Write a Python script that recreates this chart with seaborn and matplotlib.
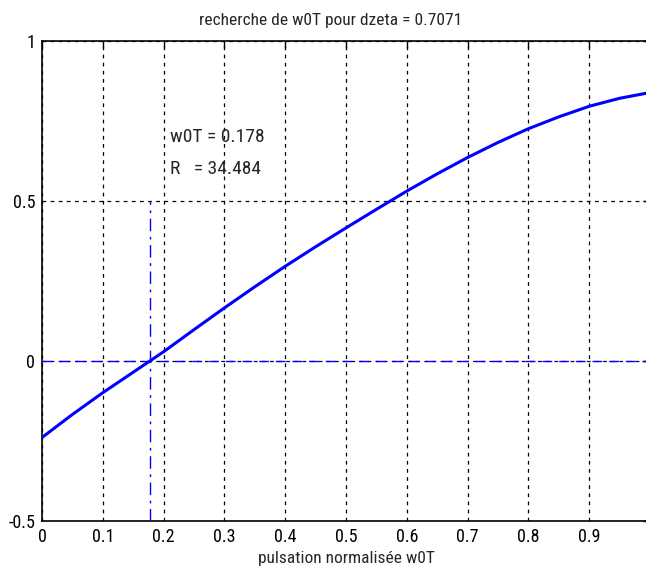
import matplotlib
matplotlib.use("Agg")
import matplotlib.pyplot as plt
from matplotlib import font_manager
import numpy as np
import pandas as pd
import seaborn as sns

# Normalised pulsation w0T and the search function value
w0T = [0.00, 0.05, 0.10, 0.15, 0.20, 0.25, 0.30, 0.35, 0.40, 0.45, 0.50,
       0.55, 0.60, 0.65, 0.70, 0.75, 0.80, 0.85, 0.90, 0.95, 1.00]
crit = [-0.240, -0.168, -0.100, -0.036, 0.028, 0.097, 0.165, 0.231, 0.295,
        0.356, 0.415, 0.473, 0.530, 0.584, 0.635, 0.682, 0.725, 0.762,
        0.795, 0.820, 0.838]

w0T_sol = 0.178
R_sol = 34.484

xticks = [0, 0.1, 0.2, 0.3, 0.4, 0.5, 0.6, 0.7, 0.8, 0.9]
xticklabels = ["0", "0.1", "0.2", "0.3", "0.4", "0.5", "0.6", "0.7", "0.8", "0.9"]
yticks = [-0.5, 0, 0.5, 1]
yticklabels = ["-0.5", "0", "0.5", "1"]

sns.set_style("white")
available = {f.name for f in font_manager.fontManager.ttflist}
family = "DejaVu Sans"
for cand in ["Liberation Sans Narrow", "Roboto Condensed", "Liberation Sans"]:
    if cand in available:
        family = cand
        break
plt.rcParams["font.family"] = [family, "DejaVu Sans"]
plt.rcParams["axes.unicode_minus"] = False

W, H = 646, 576
fig = plt.figure(figsize=(W / 100, H / 100), dpi=100)
fig.patch.set_facecolor("white")
ax = fig.add_axes([42 / W, 55.3 / H, 608 / W, 480 / H])

df = pd.DataFrame({"w0T": w0T, "crit": crit})
sns.lineplot(data=df, x="w0T", y="crit", ax=ax, color="#0000ff",
             linewidth=2.2, zorder=5)

ax.set_xlim(0, 1)
ax.set_ylim(-0.5, 1)
ax.set_xticks(xticks)
ax.set_xticklabels(xticklabels)
ax.set_yticks(yticks)
ax.set_yticklabels(yticklabels)

# MATLAB-like dotted grid
ax.grid(True, color="black", linestyle=(0, (3, 3.5)), linewidth=0.9)
ax.set_axisbelow(True)

# Solution markers
ax.axhline(0, color="#0000ff", linestyle=(0, (7, 5)), linewidth=1.0, zorder=4)
ax.plot([w0T_sol, w0T_sol], [-0.5, 0.5], color="#0000ff",
        linestyle=(0, (9, 4, 2, 4)), linewidth=1.0, zorder=4)

ax.text(0.21, 0.70, f"w0T = {w0T_sol:.3f}", fontsize=14, va="center", ha="left")
ax.text(0.21, 0.60, f"R   = {R_sol:.3f}", fontsize=14, va="center", ha="left")

ax.set_title("recherche de w0T pour dzeta = 0.7071", fontsize=12.5, pad=11, x=0.475)
ax.set_xlabel("pulsation normalisée w0T", fontsize=12.5, labelpad=4)
ax.set_ylabel("")

for side, sp in ax.spines.items():
    sp.set_color("black")
    sp.set_linewidth(1.2)
ax.tick_params(axis="both", which="both", direction="in", length=5,
               width=1.0, top=True, right=True, labelsize=13, pad=5,
               colors="black")

fig.savefig("out.png", dpi=100, facecolor="white")
